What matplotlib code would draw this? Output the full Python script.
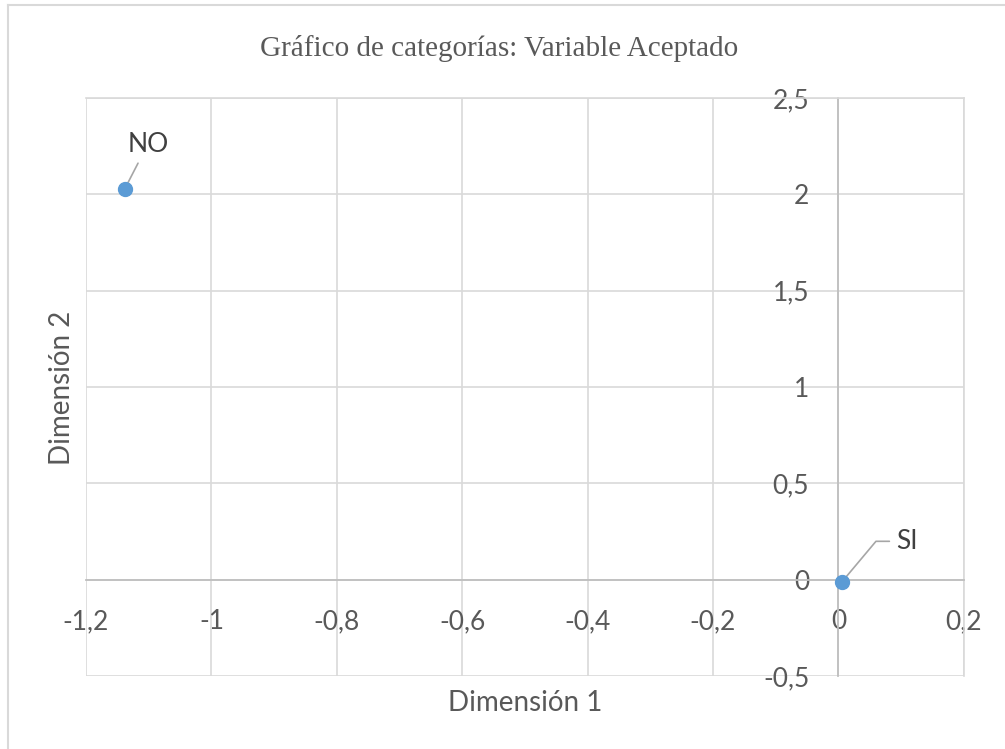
import matplotlib.pyplot as plt
from matplotlib.ticker import FuncFormatter, MultipleLocator
from matplotlib.lines import Line2D

# Category coordinates for variable "Aceptado"
categories = ["NO", "SI"]
dim1 = [-1.138, 0.006]
dim2 = [2.03, -0.01]

plt.rcParams['font.family'] = ['Lato', 'DejaVu Sans']

fig = plt.figure(figsize=(10.05, 7.49), dpi=100)
ax = fig.add_axes([0.0856, 0.0975, 0.8734, 0.7715])

ax.set_xlim(-1.2, 0.2)
ax.set_ylim(-0.5, 2.5)
ax.xaxis.set_major_locator(MultipleLocator(0.2))
ax.yaxis.set_major_locator(MultipleLocator(0.5))

def comma(v, pos):
    s = f"{v:.1f}".rstrip('0').rstrip('.')
    if s in ("-0", ""):
        s = "0"
    return s.replace('.', ',')

ax.xaxis.set_major_formatter(FuncFormatter(comma))
ax.yaxis.set_major_formatter(FuncFormatter(comma))

ax.grid(True, color='#d9d9d9', linewidth=1.2)
ax.set_axisbelow(True)

# axes cross at the origin
ax.spines['left'].set_position(('data', 0))
ax.spines['bottom'].set_position(('data', 0))
for side in ('left', 'bottom'):
    ax.spines[side].set_color('#bfbfbf')
    ax.spines[side].set_linewidth(1.3)
for side in ('top', 'right'):
    ax.spines[side].set_color('#d9d9d9')
    ax.spines[side].set_linewidth(1.2)

ax.tick_params(axis='both', length=0, labelsize=19, labelcolor='#595959')
ax.tick_params(axis='x', pad=21)
ax.tick_params(axis='y', pad=21)

ax.plot(dim1, dim2, 'o', color='#5b9bd5', markersize=10, zorder=5,
        clip_on=False)

# data labels with leader lines
ax.annotate(categories[0], (dim1[0], dim2[0]), xytext=(16.5, 32),
            textcoords='offset points', ha='center', va='center',
            fontsize=19, color='#404040',
            arrowprops=dict(arrowstyle='-', color='#a6a6a6', lw=1.2,
                            shrinkA=3, shrinkB=0))
ax.annotate(categories[1], (dim1[1], dim2[1]), xytext=(39, 29),
            textcoords='offset points', ha='left', va='center',
            fontsize=19, color='#404040',
            arrowprops=dict(arrowstyle='-', color='#a6a6a6', lw=1.2,
                            shrinkA=3, shrinkB=0, relpos=(0, 0.5),
                            connectionstyle='angle,angleA=0,angleB=50,rad=0'))

fig.text(0.497, 0.935, "Gráfico de categorías: Variable Aceptado",
         ha='center', va='center', fontsize=21, color='#595959',
         family='Liberation Serif')
fig.text(0.523, 0.062, "Dimensión 1", ha='center', va='center',
         fontsize=20, color='#595959')
fig.text(0.062, 0.482, "Dimensión 2", ha='center', va='center',
         fontsize=20, color='#595959', rotation=90)

# chart area border (left and top edges)
fig.add_artist(Line2D([0.008, 0.008], [0, 0.993], transform=fig.transFigure,
                      color='#d9d9d9', lw=1.5))
fig.add_artist(Line2D([0.008, 1], [0.993, 0.993], transform=fig.transFigure,
                      color='#d9d9d9', lw=1.5))

fig.savefig("out.png", dpi=100)
